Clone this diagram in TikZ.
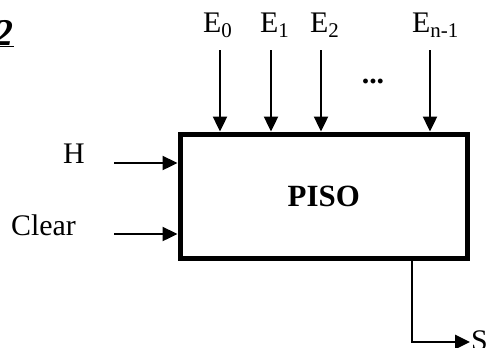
\documentclass[tikz,border=0pt]{standalone}
\usepackage{fontspec}
\setmainfont{Liberation Serif}
\usetikzlibrary{arrows.meta,positioning}

\begin{document}
\begin{tikzpicture}[x=1bp,y=-1bp,font=\fontsize{30}{34}\selectfont,
  sig/.style={line width=2.4bp,-{Triangle[length=15bp,width=14bp]}},
  lbl/.style={inner sep=0pt,anchor=base west}]
  \useasboundingbox (0,0) rectangle (487,347);
  % title fragment
  \node[inner sep=0pt,anchor=base east,font=\fontsize{38}{42}\selectfont] (num) at (14,45)
    {\textbf{\textit{\underline{2}}}};
  % register
  \node[draw,line width=5bp,minimum width=287.5bp,minimum height=124.5bp,inner sep=0pt,
    font=\fontsize{31}{35}\selectfont\bfseries] (piso) at (323.75,196.25) {PISO};

  % parallel inputs
  \node[lbl] (e0) at (203,32) {E\textsubscript{0}};
  \node[lbl] (e1) at (260,32) {E\textsubscript{1}};
  \node[lbl] (e2) at (310,32) {E\textsubscript{2}};
  \node[lbl] (en) at (412,32) {E\textsubscript{n-1}};
  \coordinate (e0a) at (220,50);
  \coordinate (e1a) at (271,50);
  \coordinate (e2a) at (321,50);
  \coordinate (ena) at (430,50);
  \draw[sig] (e0a) -- (e0a |- piso.north);
  \draw[sig] (e1a) -- (e1a |- piso.north);
  \draw[sig] (e2a) -- (e2a |- piso.north);
  \draw[sig] (ena) -- (ena |- piso.north);
  \node[inner sep=0pt,anchor=base,font=\fontsize{30}{34}\selectfont\bfseries] (dots) at (373,83) {...};

  % control inputs
  \node[lbl] (h) at (63,163) {H};
  \node[lbl] (clr) at (11,235) {Clear};
  \coordinate (ha) at (114,163);
  \coordinate (clra) at (114,234);
  \draw[sig] (ha) -- (ha -| piso.west);
  \draw[sig] (clra) -- (clra -| piso.west);

  % serial output
  \node[lbl] (s) at (471,350) {S};
  \coordinate (sa) at (412,342);
  \coordinate (send) at (470,342);
  \draw[sig,line width=2.8bp] (sa |- piso.south) -- (sa) -- (send);
\end{tikzpicture}
\end{document}
